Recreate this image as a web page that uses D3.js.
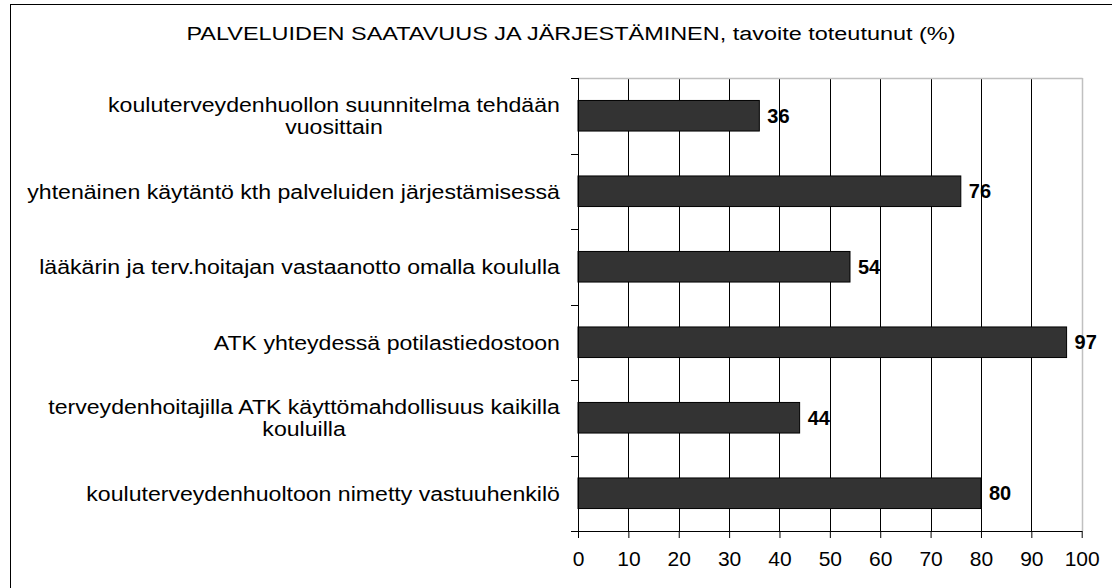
<!DOCTYPE html>
<html>
<head>
<meta charset="utf-8">
<script src="https://cdn.jsdelivr.net/npm/d3@7"></script>
<style>
  html, body { margin: 0; padding: 0; background: #fff; }
  svg { display: block; font-family: "Liberation Sans", Arial, sans-serif; }
</style>
</head>
<body>
<svg id="chart" width="1112" height="588"></svg>
<script>
const title = "PALVELUIDEN SAATAVUUS JA JÄRJESTÄMINEN, tavoite toteutunut (%)";
const categories = [
  ["kouluterveydenhuollon suunnitelma tehdään", "vuosittain"],
  ["yhtenäinen käytäntö kth palveluiden järjestämisessä"],
  ["lääkärin ja terv.hoitajan vastaanotto omalla koululla"],
  ["ATK yhteydessä potilastiedostoon"],
  ["terveydenhoitajilla ATK käyttömahdollisuus kaikilla", "kouluilla"],
  ["kouluterveydenhuoltoon nimetty vastuuhenkilö"]
];
const values = [36, 76, 54, 97, 44, 80];
const xTicks = [0, 10, 20, 30, 40, 50, 60, 70, 80, 90, 100];

const svg = d3.select("#chart");
const plot = { left: 578, right: 1081.7, top: 78, bottom: 531 };

// outer frame
svg.append("rect")
  .attr("x", 10.5).attr("y", 4.5)
  .attr("width", 1300).attr("height", 800)
  .attr("fill", "none").attr("stroke", "#000").attr("stroke-width", 1);

// title (horizontally widened like the reference rendering)
svg.append("g")
  .attr("transform", "translate(571,40) scale(1.235,1)")
  .append("text")
  .attr("x", 0).attr("y", 0)
  .attr("text-anchor", "middle")
  .attr("font-size", 19)
  .attr("fill", "#000")
  .text(title);

const x = d3.scaleLinear().domain([0, 100]).range([plot.left, plot.right]);
const y = d3.scaleBand().domain(d3.range(categories.length)).range([plot.top, plot.bottom]).padding(0);
const barH = y.bandwidth() * 0.405;

// gridlines
svg.append("g").selectAll("line")
  .data(xTicks.filter(t => t > 0 && t < 100))
  .join("line")
  .attr("x1", d => Math.round(x(d)) + 0.5).attr("x2", d => Math.round(x(d)) + 0.5)
  .attr("y1", plot.top).attr("y2", plot.bottom)
  .attr("stroke", "#000").attr("stroke-width", 1);

// plot border top/right (gray)
svg.append("line")
  .attr("x1", plot.left).attr("x2", Math.round(x(100)) + 0.5)
  .attr("y1", plot.top + 0.5).attr("y2", plot.top + 0.5)
  .attr("stroke", "#c0c0c0").attr("stroke-width", 1.5);
svg.append("line")
  .attr("x1", Math.round(x(100)) + 0.5).attr("x2", Math.round(x(100)) + 0.5)
  .attr("y1", plot.top).attr("y2", plot.bottom)
  .attr("stroke", "#c0c0c0").attr("stroke-width", 1.5);

// bars
svg.append("g").selectAll("rect")
  .data(values)
  .join("rect")
  .attr("x", x(0))
  .attr("y", (d, i) => y(i) + (y.bandwidth() - barH) / 2)
  .attr("width", d => x(d) - x(0))
  .attr("height", barH)
  .attr("fill", "#333333")
  .attr("stroke", "#000").attr("stroke-width", 1);

// value labels
svg.append("g").selectAll("text")
  .data(values)
  .join("text")
  .attr("x", d => x(d) + 8)
  .attr("y", (d, i) => y(i) + y.bandwidth() / 2)
  .attr("dy", "0.35em")
  .attr("font-size", 20).attr("font-weight", "bold")
  .attr("fill", "#000")
  .text(d => d);

// x axis
const xAxis = d3.axisBottom(x).tickValues(xTicks).tickSize(7).tickPadding(13).tickSizeOuter(0);
const gx = svg.append("g").attr("transform", `translate(0,${plot.bottom})`).call(xAxis);
gx.select(".domain").attr("stroke", "#000");
gx.selectAll(".tick line").attr("stroke", "#000");
gx.selectAll(".tick text").attr("font-size", 21).attr("font-family", "Liberation Sans, Arial, sans-serif").attr("fill", "#000");

// y axis line & ticks at band boundaries
svg.append("line")
  .attr("x1", plot.left + 0.5).attr("x2", plot.left + 0.5)
  .attr("y1", plot.top).attr("y2", plot.bottom)
  .attr("stroke", "#000");
svg.append("g").selectAll("line")
  .data(d3.range(categories.length + 1))
  .join("line")
  .attr("x1", plot.left - 7).attr("x2", plot.left)
  .attr("y1", d => Math.round(plot.top + d * y.step()) + 0.5)
  .attr("y2", d => Math.round(plot.top + d * y.step()) + 0.5)
  .attr("stroke", "#000");

// category labels: block right-aligned, wrapped lines centred in block
const labelRight = 560, lineH = 22, sx = 1.1, fs = 21;
const lg = svg.append("g");
categories.forEach((lines, i) => {
  const cy = y(i) + y.bandwidth() / 2;
  const g = lg.append("g");
  const ts = lines.map((l, k) => g.append("text")
    .attr("y", (k - (lines.length - 1) / 2) * lineH).attr("dy", "0.35em")
    .attr("text-anchor", "middle").attr("font-size", fs).attr("fill", "#000")
    .text(l));
  const w = d3.max(ts, t => t.node().getComputedTextLength());
  ts.forEach(t => t.attr("x", -w / 2));
  g.attr("transform", `translate(${labelRight},${cy}) scale(${sx},1)`);
});
</script>
</body>
</html>
